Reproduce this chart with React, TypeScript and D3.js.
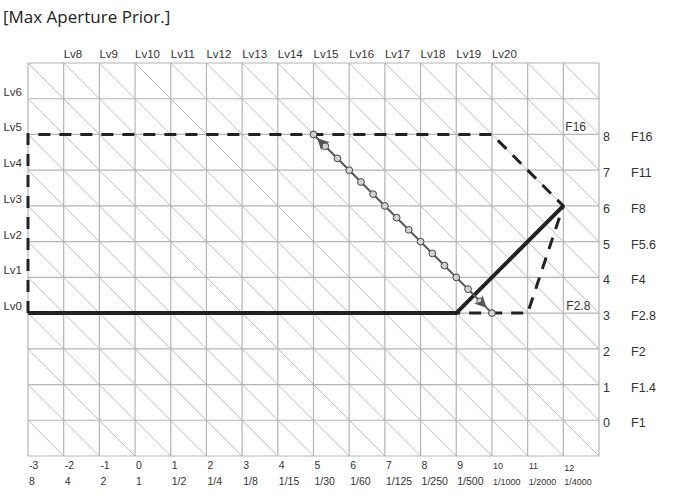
import React from "react";
import * as d3 from "d3";

// exposure values (Tv) along the bottom, with shutter speeds
const tvTicks = [-3, -2, -1, 0, 1, 2, 3, 4, 5, 6, 7, 8, 9, 10, 11, 12];
const shutterLabels = ["8", "4", "2", "1", "1/2", "1/4", "1/8", "1/15", "1/30", "1/60", "1/125", "1/250", "1/500", "1/1000", "1/2000", "1/4000"];

// aperture values (Av) on the right, with f-numbers
const avTicks = [0, 1, 2, 3, 4, 5, 6, 7, 8];
const fLabels = ["F1", "F1.4", "F2", "F2.8", "F4", "F5.6", "F8", "F11", "F16"];

// light values along top and left edges
const lvTop = [8, 9, 10, 11, 12, 13, 14, 15, 16, 17, 18, 19, 20];
const lvLeft = [0, 1, 2, 3, 4, 5, 6];

// program line and limits, [Tv, Av]
const programLine: [number, number][] = [[-3, 3], [9, 3], [12, 6]];
const limitLine: [number, number][] = [[-3, 3], [-3, 8], [10, 8], [12, 6], [11, 3], [9, 3]];

// program shift points along Lv13
const shiftTv = [5, 5.33, 5.67, 6, 6.33, 6.67, 7, 7.33, 7.67, 8, 8.33, 8.67, 9, 9.33, 9.67, 10];
const shiftAv = [8, 7.67, 7.33, 7, 6.67, 6.33, 6, 5.67, 5.33, 5, 4.67, 4.33, 4, 3.67, 3.33, 3];
const shiftArrow: [number, number][] = [[5.1, 7.9], [9.85, 3.15]];

const W = 682;
const H = 496;
const x = d3.scaleLinear([-3, 13], [28, 599]);
const y = d3.scaleLinear([-1, 10], [456, 63]);

const gridColor = "#b4b4b4";
const textColor = "#333";
const labelFont = "'Liberation Sans', Arial, sans-serif";

export default function App() {
  const line = d3.line<[number, number]>().x((d) => x(d[0])).y((d) => y(d[1]));
  const [x0, x1] = x.domain();
  const [y0, y1] = y.domain();
  const xGrid = d3.range(x0, x1 + 1);
  const yGrid = d3.range(y0, y1 + 1);
  // diagonal iso-Lv lines: Tv + Av = const
  const diagSums = d3.range(x0 + y0, x1 + y1 + 1);

  return (
    <svg width={W} height={H} style={{ position: "absolute", left: 0, top: 0, background: "#fff" }}>
      <defs>
        <clipPath id="plot">
          <rect x={x(x0)} y={y(y1)} width={x(x1) - x(x0)} height={y(y0) - y(y1)} />
        </clipPath>
        <marker id="arrow" viewBox="0 0 10 10" refX="10" refY="5" markerWidth="5" markerHeight="5" orient="auto-start-reverse">
          <path d="M0,0L10,5L0,10L3,5z" fill="#555" />
        </marker>
      </defs>

      <text x={3} y={23} fontFamily="'Open Sans', sans-serif" fontSize={17} fill="#222">
        [Max Aperture Prior.]
      </text>

      <g clipPath="url(#plot)" stroke={gridColor} strokeWidth={0.9}>
        {diagSums.map((c) => (
          <line key={c} x1={x(c - y1)} y1={y(y1)} x2={x(c - y0)} y2={y(y0)} />
        ))}
      </g>
      <g stroke={gridColor} strokeWidth={1.2}>
        {xGrid.map((v) => (
          <line key={"x" + v} x1={x(v)} x2={x(v)} y1={y(y0)} y2={y(y1)} />
        ))}
        {yGrid.map((v) => (
          <line key={"y" + v} x1={x(x0)} x2={x(x1)} y1={y(v)} y2={y(v)} />
        ))}
      </g>

      <g fontFamily={labelFont} fill={textColor}>
        {lvTop.map((lv) => (
          <text key={lv} x={x(lv - y1)} y={y(y1) - 5} fontSize={11.5}>
            Lv{lv}
          </text>
        ))}
        {lvLeft.map((lv) => (
          <text key={lv} x={x(x0) - 6} y={y(lv - x0) - 3} fontSize={11.5} textAnchor="end">
            Lv{lv}
          </text>
        ))}
        {tvTicks.map((t, i) => (
          <g key={t}>
            <text x={x(t) + 1} y={y(y0) + (t >= 12 ? 15 : 13)} fontSize={t >= 10 ? 9 : 10.5}>
              {t}
            </text>
            <text x={x(t) + 1} y={y(y0) + 29} fontSize={t >= 10 ? 9 : 10.5}>
              {shutterLabels[i]}
            </text>
          </g>
        ))}
        {avTicks.map((a, i) => (
          <g key={a}>
            <text x={x(x1) + 4} y={y(a) + 7} fontSize={12.5}>
              {a}
            </text>
            <text x={x(x1) + 32} y={y(a) + 7} fontSize={12.5}>
              {fLabels[i]}
            </text>
          </g>
        ))}
        <text x={x(12) + 2} y={y(8) - 3} fontSize={12}>F16</text>
        <text x={x(12) + 3} y={y(3) - 3} fontSize={12}>F2.8</text>
      </g>

      <path d={line(limitLine) ?? ""} fill="none" stroke="#222" strokeWidth={3} strokeDasharray="12 9" />
      <path d={line(programLine) ?? ""} fill="none" stroke="#222" strokeWidth={4} strokeLinejoin="miter" />

      <path d={line([[shiftTv[0], shiftAv[0]], [shiftTv[shiftTv.length - 1], shiftAv[shiftAv.length - 1]]]) ?? ""} stroke="#555" strokeWidth={2} fill="none" />
      <g fill="#d2d2d2" stroke="#444" strokeWidth={1}>
        {shiftTv.map((t, i) => (
          <circle key={i} cx={x(t)} cy={y(shiftAv[i])} r={3.4} />
        ))}
      </g>
      <path
        d={line(shiftArrow) ?? ""}
        fill="none"
        stroke="none"
        strokeWidth={2.4}
        markerStart="url(#arrow)"
        markerEnd="url(#arrow)"
      />
    </svg>
  );
}
